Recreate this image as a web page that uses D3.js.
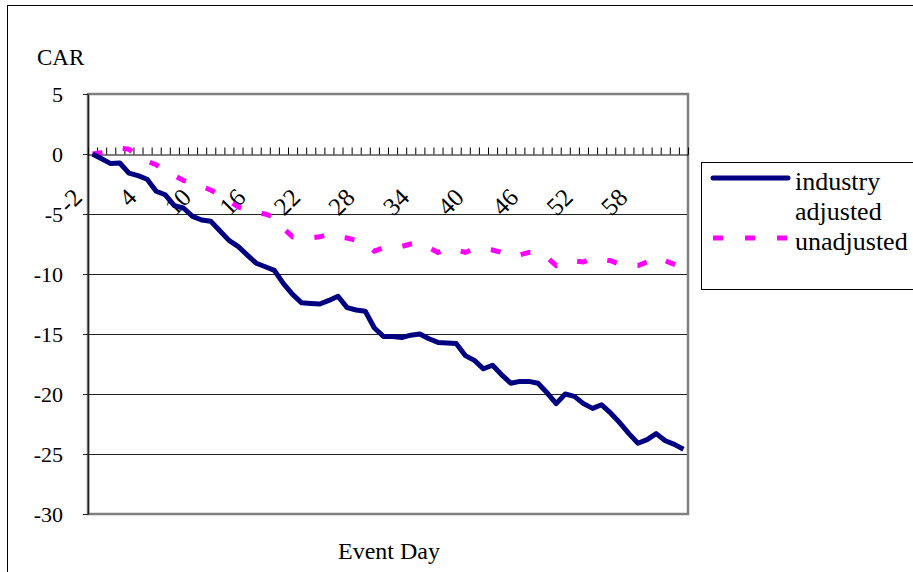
<!DOCTYPE html>
<html>
<head>
<meta charset="utf-8">
<script src="https://cdn.jsdelivr.net/npm/d3@7"></script>
<style>
  html, body { margin: 0; padding: 0; background: #fff; }
  svg { display: block; }
  svg text { font-family: "Liberation Serif", "Times New Roman", Times, serif !important; fill: #000; }
</style>
</head>
<body>
<svg id="chart" width="913" height="572"></svg>
<script>
// Event days -2 .. 63
const eventDays = d3.range(-2, 64);

// Cumulative abnormal returns (%), industry adjusted
const industryAdjusted = [
  0.0, -0.4, -0.8, -0.75, -1.6, -1.8, -2.1, -3.1, -3.4, -4.3,
  -4.5, -5.2, -5.5, -5.6, -6.4, -7.2, -7.7, -8.4, -9.1, -9.4,
  -9.7, -10.8, -11.7, -12.4, -12.45, -12.5, -12.2, -11.85, -12.8, -13.0,
  -13.1, -14.5, -15.2, -15.2, -15.3, -15.1, -15.0, -15.4, -15.7, -15.75,
  -15.8, -16.8, -17.2, -17.9, -17.6, -18.4, -19.1, -18.95, -18.95, -19.1,
  -19.9, -20.8, -20.0, -20.2, -20.8, -21.2, -20.9, -21.6, -22.4, -23.3,
  -24.1, -23.8, -23.3, -23.9, -24.2, -24.6
];

// Cumulative abnormal returns (%), unadjusted
const unadjusted = [
  0.0, 0.1, 0.2, 0.5, 0.4, -0.2, -0.6, -0.9, -1.4, -1.8,
  -2.2, -2.4, -2.7, -3.0, -3.4, -3.9, -4.4, -4.7, -4.9, -5.0,
  -5.3, -6.2, -6.9, -7.0, -7.0, -6.9, -6.7, -6.9, -7.0, -7.2,
  -7.5, -8.1, -7.8, -7.8, -7.7, -7.5, -7.4, -7.8, -8.2, -7.9,
  -8.0, -8.2, -7.9, -7.9, -8.0, -8.2, -8.5, -8.4, -8.2, -8.2,
  -8.6, -9.3, -9.0, -8.9, -9.0, -8.7, -8.8, -8.9, -9.2, -9.3,
  -9.3, -9.0, -8.6, -8.9, -9.2, -9.5
];

const yTicks = [5, 0, -5, -10, -15, -20, -25, -30];
const xLabelDays = d3.range(-2, 64, 6);   // -2, 4, 10, ... 58

const seriesNames = ["industry\nadjusted", "unadjusted"];

const svg = d3.select("#chart");

// outer chart frame
svg.append("rect")
  .attr("x", 7.5).attr("y", 5.5)
  .attr("width", 920).attr("height", 580)
  .attr("fill", "#fff").attr("stroke", "#000").attr("stroke-width", 1);

const plot = { left: 88, right: 688, top: 94, bottom: 514 };

const x = d3.scaleLinear().domain([-2.5, 63.5]).range([plot.left, plot.right]);
const y = d3.scaleLinear().domain([-30, 5]).range([plot.bottom, plot.top]);

// horizontal gridlines
svg.append("g")
  .selectAll("line")
  .data(yTicks.filter(v => v < 0 && v > -30))
  .join("line")
  .attr("x1", plot.left).attr("x2", plot.right)
  .attr("y1", d => Math.round(y(d)) + 0.5).attr("y2", d => Math.round(y(d)) + 0.5)
  .attr("stroke", "#222").attr("stroke-width", 1);

// plot area border
svg.append("rect")
  .attr("x", plot.left).attr("y", plot.top)
  .attr("width", plot.right - plot.left).attr("height", plot.bottom - plot.top)
  .attr("fill", "none").attr("stroke", "#808080").attr("stroke-width", 2.5);

// y axis
const yAxis = svg.append("g")
  .attr("transform", `translate(${plot.left},0)`)
  .call(d3.axisLeft(y).tickValues(yTicks).tickSize(5).tickSizeOuter(0).tickPadding(20)
    .tickFormat(d => d));
yAxis.attr("font-family", null).attr("font-size", null);
yAxis.select(".domain").attr("stroke", "#222").attr("stroke-width", 1.5);
yAxis.selectAll(".tick line").attr("stroke", "#222");
yAxis.selectAll(".tick text")
  .style("font-size", "22px")
  .attr("dy", "0.35em");

// category axis along CAR = 0 with tick marks at category boundaries
const boundaries = d3.range(-2.5, 64, 1);
const xAxis = svg.append("g")
  .attr("transform", `translate(0,${Math.round(y(0)) + 0.5})`)
  .call(d3.axisTop(x).tickValues(boundaries).tickSize(7).tickSizeOuter(0).tickFormat(""));
xAxis.select(".domain").attr("stroke", "#000").attr("stroke-width", 1);
xAxis.selectAll(".tick line").attr("stroke", "#000");

// rotated category labels
svg.append("g")
  .selectAll("text")
  .data(xLabelDays)
  .join("text")
  .attr("transform", d => `translate(${x(d) - 9},${y(0) + 45}) rotate(-45)`)
  .attr("text-anchor", "end")
  .style("font-size", "25px")
  .text(d => d);

// series lines
const line = d3.line().x((d, i) => x(eventDays[i])).y(d => y(d));

svg.append("path")
  .datum(unadjusted)
  .attr("d", line)
  .attr("fill", "none")
  .attr("stroke", "#ff00ff")
  .attr("stroke-width", 5)
  .attr("stroke-dasharray", "10,21");

svg.append("path")
  .datum(industryAdjusted)
  .attr("d", line)
  .attr("fill", "none")
  .attr("stroke", "#000080")
  .attr("stroke-width", 5)
  .attr("stroke-linejoin", "round");

// axis titles
svg.append("text").attr("x", 37).attr("y", 65).style("font-size", "23px").text("CAR");
svg.append("text").attr("x", 389).attr("y", 559).attr("text-anchor", "middle")
  .style("font-size", "24px").text("Event Day");

// legend
const legend = svg.append("g");
legend.append("rect")
  .attr("x", 701.5).attr("y", 162.5).attr("width", 230).attr("height", 127)
  .attr("fill", "#fff").attr("stroke", "#000").attr("stroke-width", 1);

legend.append("line")
  .attr("x1", 713).attr("x2", 788).attr("y1", 178).attr("y2", 178)
  .attr("stroke", "#000080").attr("stroke-width", 5).attr("stroke-linecap", "round");
legend.append("line")
  .attr("x1", 713).attr("x2", 790).attr("y1", 238).attr("y2", 238)
  .attr("stroke", "#ff00ff").attr("stroke-width", 5).attr("stroke-dasharray", "10,22");

const legendLines = seriesNames[0].split("\n").concat([seriesNames[1]]);
legend.selectAll("text.item")
  .data(legendLines)
  .join("text")
  .attr("class", "item")
  .attr("x", 795)
  .attr("y", (d, i) => 190 + i * 30)
  .style("font-size", "26px")
  .text(d => d);
</script>
</body>
</html>
